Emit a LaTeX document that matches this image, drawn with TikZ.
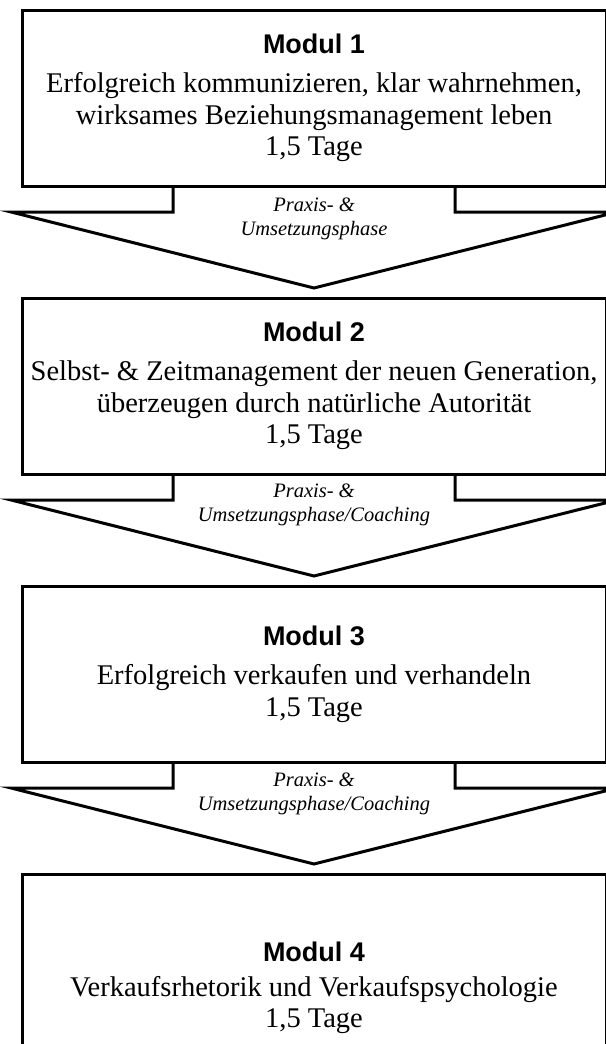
\documentclass[tikz,border=0pt]{standalone}
\usepackage{fontspec}
\setmainfont{Liberation Serif}
\setsansfont{Liberation Sans}
\usetikzlibrary{calc}
\newcommand{\titel}[2][8pt]{{\sffamily\bfseries\fontsize{27}{31.5}\selectfont #2}\\[#1]}

\begin{document}
\begin{tikzpicture}[x=1pt, y=-1pt,
   modul/.style={draw, line width=3pt, outer sep=0pt, inner sep=0pt,
                 minimum width=584pt, minimum height=176pt, align=center,
                 font=\fontsize{28.5}{31.5}\selectfont},
   phase/.style={align=center, inner sep=0pt, font=\itshape\fontsize{20.5}{24}\selectfont},
   pfeil/.style={line width=3pt}]
  \useasboundingbox (0,0) rectangle (605,1044);
  \node[modul] (b1) at (314,98)
       {\titel{Modul 1}Erfolgreich kommunizieren, klar wahrnehmen,\\
        wirksames Beziehungsmanagement leben\\ 1,5 Tage};
  \node[modul] (b2) at (314,386)
       {\titel{Modul 2}Selbst- \& Zeitmanagement der neuen Generation,\\
        überzeugen durch natürliche Autorität\\ 1,5 Tage};
  \node[modul] (b3) at (314,674)
       {\titel{Modul 3}Erfolgreich verkaufen und verhandeln\\ 1,5 Tage};
  \node[modul, minimum height=228pt] (b4) at (314,988)
       {\titel[3pt]{Modul 4}Verkaufsrhetorik und Verkaufspsychologie\\ 1,5 Tage};
  % Praxisphasen zwischen den Modulen
  \foreach \b in {b1,b2,b3} {
    \draw[pfeil] ($(\b.south)+(-141,0)$) -- ++(0,26) -- ++(-162,0)
                 -- ($(\b.south)+(0,102)$) -- ($(\b.south)+(303,26)$)
                 -- ++(-162,0) -- ++(0,-26);
  }
  \node[phase] (p1) at ($(b1.south)+(0,33)$) {Praxis- \&\\Umsetzungsphase};
  \node[phase] (p2) at ($(b2.south)+(0,31)$) {Praxis- \&\\Umsetzungsphase/Coaching};
  \node[phase] (p3) at ($(b3.south)+(0,32)$) {Praxis- \&\\Umsetzungsphase/Coaching};
\end{tikzpicture}
\end{document}
